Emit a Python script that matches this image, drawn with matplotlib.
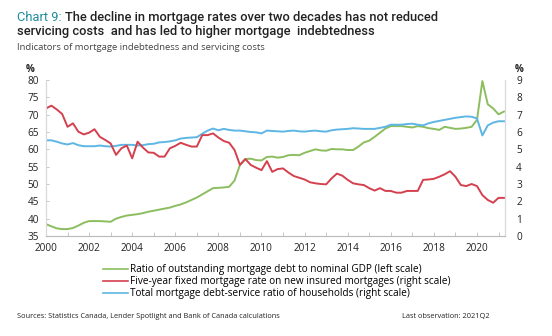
import matplotlib
matplotlib.use("Agg")
import matplotlib.pyplot as plt
from matplotlib.lines import Line2D

plt.rcParams["font.family"] = ["Open Sans", "DejaVu Sans"]

# quarterly, 2000Q1 .. 2021Q2
start_year = 2000
debt_to_gdp = [
    38.4, 37.8, 37.2, 37.0,
    37.0, 37.3, 38.0, 38.8,
    39.3, 39.3, 39.3, 39.2,
    39.1, 40.0, 40.5, 40.9,
    41.1, 41.3, 41.6, 42.0,
    42.3, 42.6, 42.9, 43.2,
    43.7, 44.1, 44.7, 45.4,
    46.1, 47.0, 47.9, 48.8,
    48.9, 49.0, 49.2, 51.0,
    55.5, 57.2, 57.3, 56.9,
    56.8, 57.8, 57.9, 57.6,
    57.8, 58.3, 58.4, 58.3,
    59.0, 59.5, 60.0, 59.7,
    59.6, 60.1, 60.0, 60.0,
    59.8, 59.8, 60.8, 62.0,
    62.5, 63.6, 64.8, 66.0,
    66.7, 66.7, 66.7, 66.5,
    66.3, 66.7, 66.5, 66.1,
    65.9, 65.6, 66.5, 66.2,
    65.9, 66.0, 66.2, 66.5,
    68.5, 79.7, 73.0, 71.8,
    70.1, 70.9,
]
five_year_rate = [
    7.36, 7.52, 7.30, 7.04,
    6.30, 6.50, 6.02, 5.86,
    5.96, 6.16, 5.72, 5.54,
    5.34, 4.68, 5.06, 5.22,
    4.48, 5.44, 5.10, 4.82,
    4.80, 4.58, 4.58, 5.06,
    5.20, 5.38, 5.26, 5.16,
    5.16, 5.82, 5.82, 5.92,
    5.68, 5.48, 5.38, 4.96,
    4.10, 4.44, 4.10, 3.94,
    3.80, 4.32, 3.70, 3.86,
    3.90, 3.66, 3.46, 3.36,
    3.26, 3.10, 3.04, 3.00,
    2.98, 3.32, 3.60, 3.48,
    3.24, 3.04, 2.98, 2.94,
    2.76, 2.62, 2.76, 2.60,
    2.60, 2.50, 2.50, 2.60,
    2.60, 2.60, 3.24, 3.26,
    3.30, 3.42, 3.56, 3.74,
    3.42, 2.94, 2.88, 3.00,
    2.88, 2.36, 2.08, 1.92,
    2.20, 2.20,
]
debt_service = [
    5.52, 5.52, 5.44, 5.34,
    5.28, 5.36, 5.24, 5.18,
    5.18, 5.18, 5.22, 5.18,
    5.16, 5.20, 5.26, 5.26,
    5.26, 5.22, 5.24, 5.30,
    5.32, 5.40, 5.42, 5.46,
    5.52, 5.62, 5.66, 5.68,
    5.70, 5.90, 6.08, 6.20,
    6.10, 6.18, 6.12, 6.08,
    6.08, 6.04, 6.00, 5.98,
    5.92, 6.08, 6.06, 6.04,
    6.02, 6.06, 6.08, 6.04,
    6.02, 6.06, 6.08, 6.04,
    6.02, 6.10, 6.14, 6.16,
    6.18, 6.22, 6.20, 6.18,
    6.18, 6.18, 6.24, 6.30,
    6.42, 6.42, 6.42, 6.46,
    6.48, 6.42, 6.38, 6.50,
    6.58, 6.64, 6.70, 6.76,
    6.82, 6.86, 6.90, 6.88,
    6.78, 5.80, 6.38, 6.54,
    6.62, 6.62,
]
dates = [start_year + i / 4 for i in range(len(debt_to_gdp))]

labels = [
    "Ratio of outstanding mortgage debt to nominal GDP (left scale)",
    "Five-year fixed mortgage rate on new insured mortgages (right scale)",
    "Total mortgage debt-service ratio of households (right scale)",
]
left_ticks = [35, 40, 45, 50, 55, 60, 65, 70, 75, 80]
right_ticks = list(range(0, 10))
year_ticks = list(range(2000, 2022))
year_labels = [str(y) if y % 2 == 0 else "" for y in year_ticks]

GREEN = "#8cbd5e"
RED = "#d4404e"
BLUE = "#5eb6e4"
TEAL = "#1e8c9c"
TXT = "#222222"

fig = plt.figure(figsize=(5.52, 3.36), dpi=100)
ax = fig.add_axes([46 / 552, 1 - 236 / 336, (505 - 46) / 552, (236 - 80) / 336])
ax2 = ax.twinx()

ax.plot(dates, debt_to_gdp, color=GREEN, lw=1.4, zorder=3)
ax2.plot(dates, debt_service, color=BLUE, lw=1.4)
ax2.plot(dates, five_year_rate, color=RED, lw=1.4)

ax.set_xlim(2000, 2021.3)
ax.set_ylim(35, 80)
ax2.set_ylim(0, 9)
ax.set_yticks(left_ticks)
ax2.set_yticks(right_ticks)
ax.set_xticks(year_ticks)
ax.set_xticklabels(year_labels)

for a in (ax, ax2):
    a.spines["top"].set_visible(False)
    for s in ("left", "right"):
        a.spines[s].set_color("#d9d9d9")
        a.spines[s].set_linewidth(0.8)
    a.spines["bottom"].set_color("#bdbdbd")
    a.spines["bottom"].set_linewidth(0.8)
    a.tick_params(labelsize=7.2, colors="#bdbdbd", labelcolor=TXT,
                  length=3, width=0.6, direction="in")
ax.tick_params(axis="x", pad=5)
ax.tick_params(axis="y", pad=5, length=2)
ax2.tick_params(axis="y", pad=8, length=0)

ax.text(-0.035, 1.03, "%", transform=ax.transAxes, fontsize=7,
        fontweight="bold", color=TXT, ha="center", va="bottom")
ax2.text(1.03, 1.03, "%", transform=ax.transAxes, fontsize=7,
         fontweight="bold", color=TXT, ha="center", va="bottom")

handles = [Line2D([], [], color=c, lw=1.2) for c in (GREEN, RED, BLUE)]
fig.legend(handles, labels, loc="upper left", bbox_to_anchor=(103 / 552, 1 - 264 / 336),
           frameon=False, fontsize=7.2, handlelength=2.5, handletextpad=0.15,
           labelspacing=0.12, borderaxespad=0, borderpad=0)

# title
title_font = ["Roboto", "DejaVu Sans"]
t1 = fig.text(17 / 552, 1 - 21 / 336, "Chart 9:", color=TEAL, fontsize=9.3,
              family=title_font, va="baseline", ha="left")
fig.canvas.draw()
bb = t1.get_window_extent()
fig.text((bb.x1 + 3) / 552, 1 - 21 / 336,
         "The decline in mortgage rates over two decades has not reduced",
         color=TXT, fontsize=9.3, fontweight="medium", family=title_font,
         va="baseline", ha="left")
fig.text(17 / 552, 1 - 35.5 / 336,
         "servicing costs  and has led to higher mortgage  indebtedness",
         color=TXT, fontsize=9.3, fontweight="medium", family=title_font,
         va="baseline", ha="left")
fig.text(17 / 552, 1 - 50 / 336,
         "Indicators of mortgage indebtedness and servicing costs",
         color="#444444", fontsize=6.8, va="baseline", ha="left")

fig.text(17 / 552, 1 - 318 / 336,
         "Sources: Statistics Canada, Lender Spotlight and Bank of Canada calculations",
         color=TXT, fontsize=5.3, va="baseline", ha="left")
fig.text(490 / 552, 1 - 318 / 336, "Last observation: 2021Q2",
         color=TXT, fontsize=5.3, va="baseline", ha="right")

fig.savefig("out.png", dpi=100)
